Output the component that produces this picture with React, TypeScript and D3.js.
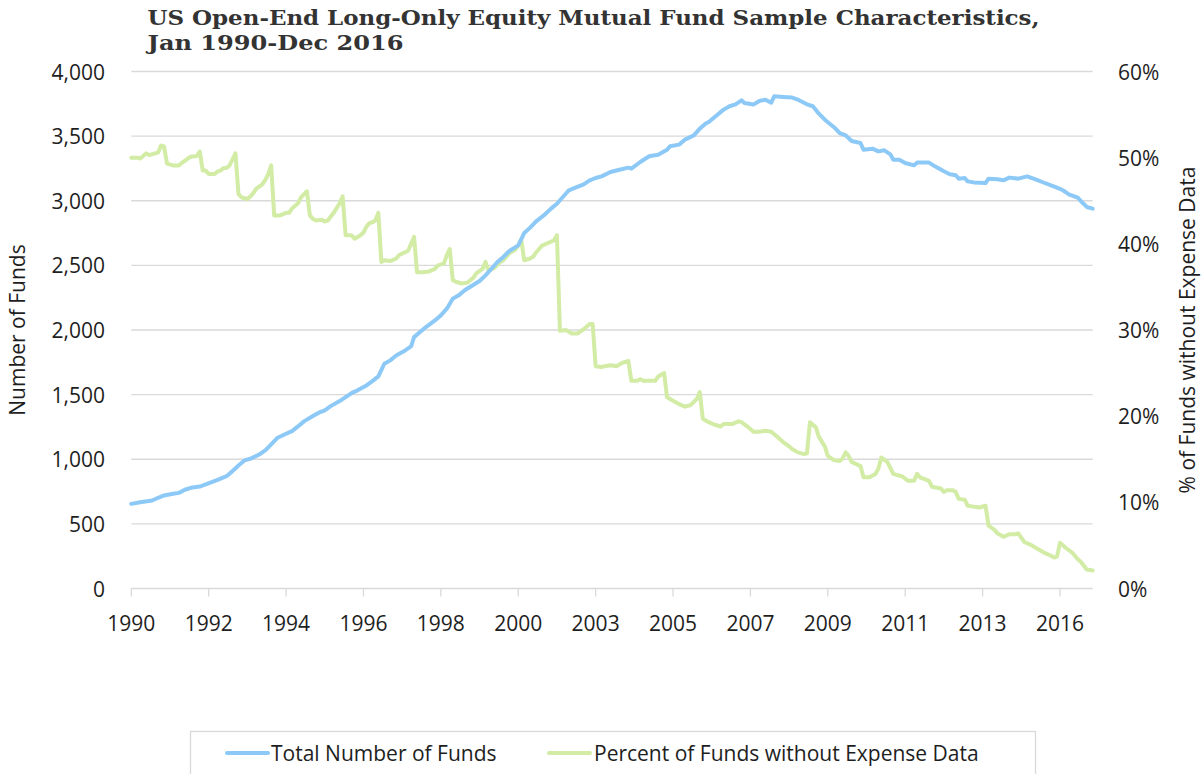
import React from "react";
import * as d3 from "d3";

// ---- Data (month index counted from Jan 1990) ----
const fundMonths = [
  0, 3, 7, 9, 11, 14, 16, 18, 20, 23, 25, 27, 29, 32, 34, 36, 38, 40, 43, 45, 47, 49, 52, 54, 56, 58, 61, 63, 65, 67, 70, 72, 74, 76, 79,
  81, 83, 85, 87, 89, 92, 94, 95, 97, 99, 102, 104, 106, 108, 110, 112, 115, 117, 119, 121, 123, 125, 127, 130, 132, 134, 136, 139, 141, 143, 145, 147, 149, 152, 154, 156, 158, 161,
  164, 167, 168, 171, 174, 177, 180, 181, 184, 186, 189, 191, 193, 194, 196, 199, 201, 203, 205, 206, 209, 211, 213, 215, 216, 219, 222, 224, 227, 229, 231, 233, 236, 238, 240,
  242, 245, 246, 249, 251, 253, 255, 256, 258, 260, 263, 264, 268, 270, 273, 275, 277, 278, 280, 281, 283, 287, 288, 291, 293, 295, 298, 301, 304, 306, 309, 311, 313, 315, 318, 319, 321, 323,
];
const totalFunds = [
  655, 668, 681, 702, 720, 733, 740, 764, 779, 789, 805, 823, 841, 869, 908, 952, 991, 1004, 1037, 1068, 1115, 1164, 1197, 1218, 1254, 1293, 1334, 1360, 1378, 1411, 1450, 1481, 1512, 1533, 1571,
  1605, 1641, 1739, 1765, 1803, 1842, 1873, 1945, 1984, 2023, 2074, 2113, 2165, 2242, 2268, 2307, 2350, 2379, 2423, 2474, 2526, 2565, 2611, 2655, 2750, 2792, 2841, 2895, 2939, 2977, 3029, 3081, 3099, 3127, 3158, 3176, 3189, 3222,
  3240, 3256, 3248, 3300, 3344, 3356, 3395, 3421, 3434, 3473, 3506, 3558, 3597, 3609, 3648, 3705, 3731, 3746, 3777, 3756, 3744, 3772, 3782, 3759, 3808, 3803, 3798, 3782, 3746, 3731, 3674, 3627, 3571, 3524, 3506,
  3462, 3447, 3395, 3403, 3382, 3390, 3359, 3318, 3318, 3292, 3274, 3295, 3295, 3266, 3228, 3205, 3197, 3171, 3176, 3150, 3142, 3137, 3171, 3166, 3158, 3179, 3171, 3189, 3163, 3145, 3119, 3101, 3081, 3050, 3024, 2998, 2952, 2939,
];

const pctMonths = [
  0, 2, 3, 4, 5, 6, 8, 9, 10, 11, 12, 14, 16, 17, 19, 20, 22, 23, 24, 25, 26, 28, 29, 30, 31, 32, 33, 34, 35, 36, 37, 39, 40, 41, 42, 44, 45, 46, 47,
  48, 50, 52, 53, 54, 56, 57, 59, 60, 61, 62, 64, 65, 66, 68, 70, 71, 72, 74, 75, 77, 78, 79, 80, 81, 82, 83,
  84, 85, 87, 89, 90, 93, 94, 95, 96, 98, 100, 102, 103, 105, 106, 107, 108, 109, 111, 113, 115, 116, 118, 119, 120, 122, 124, 125, 127, 129, 130, 131,
  132, 134, 135, 136, 138, 140, 142, 143, 144, 146, 148, 150, 152, 154, 155, 156, 158, 159, 161, 163, 165, 167,
  168, 170, 171, 172, 176, 177, 179, 180, 182, 184, 186, 188, 190, 191, 192, 194, 196, 198, 199, 202, 204, 205, 207, 208, 209, 211, 213, 215, 217, 219, 221, 222, 224, 226, 227,
  228, 230, 231, 233, 234, 236, 238, 239, 240, 241, 242, 245, 246, 248, 250, 251, 252, 254, 256, 259, 261, 263, 264, 265, 268, 269, 272, 273, 274, 276, 277, 278, 280, 281, 283, 285, 287,
  288, 290, 291, 293, 295, 297, 298, 300, 302, 304, 305, 307, 309, 310, 311, 312, 314, 316, 318, 319, 321, 323,
];
const pctNoExpense = [
  50.0, 50.0, 49.9, 50.2, 50.5, 50.3, 50.5, 50.6, 51.4, 51.3, 49.3, 49.1, 49.1, 49.4, 49.9, 50.1, 50.2, 50.7, 48.5, 48.5, 48.1, 48.1, 48.4, 48.5, 48.8, 48.8, 49.1, 49.8, 50.5, 45.8, 45.4, 45.2, 45.5, 45.9, 46.4, 46.9, 47.4, 48.1, 49.1,
  43.3, 43.3, 43.6, 43.6, 44.1, 44.7, 45.4, 46.1, 43.3, 42.9, 42.7, 42.8, 42.6, 42.7, 43.6, 44.7, 45.5, 41.0, 41.0, 40.6, 41.0, 41.3, 42.0, 42.4, 42.5, 42.7, 43.6,
  37.9, 38.1, 38.0, 38.3, 38.7, 39.2, 40.0, 40.8, 36.7, 36.7, 36.8, 37.1, 37.5, 37.7, 38.7, 39.4, 35.8, 35.6, 35.4, 35.5, 36.1, 36.6, 37.1, 37.9, 36.9, 37.2, 37.9, 38.1, 38.9, 39.3, 39.8, 40.5,
  38.1, 38.3, 38.5, 39.0, 39.8, 40.1, 40.4, 41.0, 29.9, 30.0, 29.6, 29.6, 30.1, 30.7, 30.7, 25.8, 25.7, 25.8, 25.9, 25.8, 26.2, 26.4,
  24.1, 24.1, 24.3, 24.1, 24.1, 24.6, 25.0, 22.2, 21.8, 21.4, 21.1, 21.3, 22.0, 22.8, 19.7, 19.3, 19.0, 18.8, 19.1, 19.1, 19.4, 19.3, 18.8, 18.5, 18.2, 18.2, 18.3, 18.2, 17.6, 17.0, 16.5, 16.2, 15.8, 15.6, 15.7,
  19.3, 18.7, 17.6, 16.5, 15.4, 14.9, 14.8, 15.1, 15.8, 15.4, 14.7, 14.2, 12.9, 12.9, 13.3, 13.9, 15.2, 14.7, 13.3, 13.0, 12.5, 12.5, 13.3, 12.9, 12.5, 11.8, 11.6, 11.2, 11.4, 11.4, 11.2, 10.4, 10.3, 9.6, 9.5, 9.4, 9.6,
  7.3, 6.8, 6.4, 6.0, 6.3, 6.3, 6.4, 5.4, 5.1, 4.7, 4.5, 4.1, 3.8, 3.6, 3.7, 5.3, 4.7, 4.2, 3.4, 3.1, 2.2, 2.1,
];

const xTickLabels = ["1990", "1992", "1994", "1996", "1998", "2000", "2003", "2005", "2007", "2009", "2011", "2013", "2016"];
const xTickInterval = 26; // category label interval (months)
const leftTicks = [0, 500, 1000, 1500, 2000, 2500, 3000, 3500, 4000];
const rightTicks = [0, 10, 20, 30, 40, 50, 60];

const titleLines = ["US Open-End Long-Only Equity Mutual Fund Sample Characteristics,", "Jan 1990-Dec 2016"];
const seriesNames = ["Total Number of Funds", "Percent of Funds without Expense Data"];

// ---- Layout / style ----
const W = 1202;
const H = 774;
const P = { left: 131.3, right: 1092.7, top: 71.5, bottom: 588.5 };
const BLUE = "#8dc9f7";
const GREEN = "#d2eca6";
const GRID = "#d9d9d9";
const TEXT = "#1e1e1e";
const FONT = "'Open Sans', 'Noto Sans', sans-serif";
const FS = 21;

export default function App() {
  const x = d3.scaleLinear().domain([0, 323]).range([P.left, P.right]);
  const yL = d3.scaleLinear().domain([0, 4000]).range([P.bottom, P.top]);
  const yR = d3.scaleLinear().domain([0, 60]).range([P.bottom, P.top]);

  const fundPts: [number, number][] = fundMonths.map((m, i) => [m, totalFunds[i]]);
  const pctPts: [number, number][] = pctMonths.map((m, i) => [m, pctNoExpense[i]]);

  const lineL = d3.line<[number, number]>().x((d) => x(d[0])).y((d) => yL(d[1]));
  const lineR = d3.line<[number, number]>().x((d) => x(d[0])).y((d) => yR(d[1]));

  const fmt = d3.format(",");

  const legendY = 753;

  return (
    <svg
      width={W}
      height={H}
      viewBox={`0 0 ${W} ${H}`}
      style={{ position: "absolute", left: 0, top: 0, display: "block", background: "#fff" }}
    >
      {/* Title */}
      <text x={147.5} y={25} fontFamily="'DejaVu Serif', serif" fontWeight="bold" fontSize={20} fill="#333"
        textLength={892} lengthAdjust="spacingAndGlyphs">
        {titleLines[0]}
      </text>
      <text x={147.5} y={50} fontFamily="'DejaVu Serif', serif" fontWeight="bold" fontSize={20} fill="#333"
        textLength={256} lengthAdjust="spacingAndGlyphs">
        {titleLines[1]}
      </text>

      {/* Gridlines */}
      {leftTicks.map((t) => (
        <line key={"g" + t} x1={P.left} x2={P.right} y1={yL(t)} y2={yL(t)} stroke={GRID} strokeWidth={1.3} />
      ))}
      {/* X tick marks */}
      {xTickLabels.map((l, k) => (
        <line key={"xt" + l} x1={x(k * xTickInterval)} x2={x(k * xTickInterval)} y1={P.bottom} y2={P.bottom + 8}
          stroke={GRID} strokeWidth={1.3} />
      ))}

      {/* Left axis labels */}
      {leftTicks.map((t) => (
        <text key={"l" + t} x={105} y={yL(t)} textAnchor="end" dominantBaseline="central"
          fontFamily={FONT} fontSize={FS} fill={TEXT}>
          {fmt(t)}
        </text>
      ))}
      {/* Right axis labels */}
      {rightTicks.map((t) => (
        <text key={"r" + t} x={1118} y={yR(t)} textAnchor="start" dominantBaseline="central"
          fontFamily={FONT} fontSize={FS} fill={TEXT}>
          {t + "%"}
        </text>
      ))}
      {/* X labels */}
      {xTickLabels.map((l, k) => (
        <text key={"xl" + l} x={x(k * xTickInterval)} y={631} textAnchor="middle"
          fontFamily={FONT} fontSize={FS} fill={TEXT}>
          {l}
        </text>
      ))}

      {/* Axis titles */}
      <text transform={`translate(17,${(P.top + P.bottom) / 2}) rotate(-90)`} textAnchor="middle"
        dominantBaseline="central" fontFamily={FONT} fontSize={FS} fill={TEXT}>
        Number of Funds
      </text>
      <text transform={`translate(1187,${(P.top + P.bottom) / 2}) rotate(-90)`} textAnchor="middle"
        dominantBaseline="central" fontFamily={FONT} fontSize={FS} fill={TEXT}>
        % of Funds without Expense Data
      </text>

      {/* Series */}
      <path d={lineR(pctPts) || ""} fill="none" stroke={GREEN} strokeWidth={4} strokeLinejoin="round" strokeLinecap="round" />
      <path d={lineL(fundPts) || ""} fill="none" stroke={BLUE} strokeWidth={4} strokeLinejoin="round" strokeLinecap="round" />

      {/* Legend */}
      <rect x={190.5} y={731.5} width={845} height={60} fill="#fff" stroke={GRID} strokeWidth={1.3} />
      <line x1={227} x2={268} y1={legendY} y2={legendY} stroke={BLUE} strokeWidth={4} strokeLinecap="round" />
      <text x={271} y={legendY} dominantBaseline="central" fontFamily={FONT} fontSize={FS} fill={TEXT}>
        {seriesNames[0]}
      </text>
      <line x1={549} x2={590} y1={legendY} y2={legendY} stroke={GREEN} strokeWidth={4} strokeLinecap="round" />
      <text x={594} y={legendY} dominantBaseline="central" fontFamily={FONT} fontSize={FS} fill={TEXT}>
        {seriesNames[1]}
      </text>
    </svg>
  );
}
